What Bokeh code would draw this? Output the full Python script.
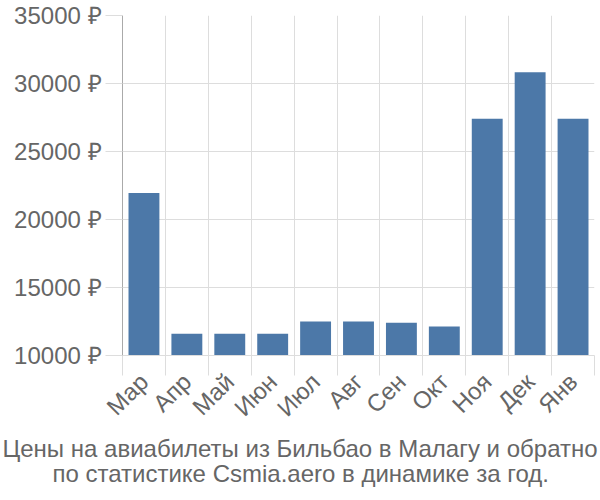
import math
from bokeh.plotting import figure
from bokeh.models import Range1d, FixedTicker, Title
from bokeh.embed import file_html
from bokeh.resources import INLINE

months = ["Мар", "Апр", "Май", "Июн", "Июл", "Авг", "Сен", "Окт", "Ноя", "Дек", "Янв"]
prices = [21950, 11600, 11600, 11600, 12500, 12500, 12400, 12130, 27400, 30830, 27400]
y_ticks = [10000, 15000, 20000, 25000, 30000, 35000]
title_lines = ["Цены на авиабилеты из Бильбао в Малагу и обратно",
               "по статистике Csmia.aero в динамике за год."]

FONT = "Liberation Sans"
GRAY = "#666666"

n = len(months)
centers = [i + 0.5 for i in range(n)]
bounds = list(range(n + 1))

p = figure(width=600, height=500, output_backend="svg", toolbar_location=None,
           x_range=Range1d(0, n), y_range=Range1d(10000, 35000),
           min_border_left=122, min_border_right=6, min_border_top=15, min_border_bottom=145)
p.outline_line_color = None
p.background_fill_color = "white"

p.vbar(x=centers, top=prices, bottom=10000, width=0.72, fill_color="#4c78a8", line_color=None)

# x axis
p.xaxis.ticker = FixedTicker(ticks=centers, minor_ticks=bounds)
p.xaxis.major_label_overrides = {c: m for c, m in zip(centers, months)}
p.xaxis.major_label_orientation = math.pi / 4
p.xaxis.major_tick_line_color = None
p.xaxis.minor_tick_line_color = "#dddddd"
p.xaxis.minor_tick_out = 20
p.xaxis.minor_tick_in = 0
p.xaxis.axis_line_color = "#dddddd"
p.xaxis.major_label_text_font = FONT
p.xaxis.major_label_text_font_size = "24px"
p.xaxis.major_label_text_color = GRAY
p.xaxis.major_label_standoff = 2
p.xgrid.ticker = FixedTicker(ticks=bounds)
p.xgrid.grid_line_color = "#dddddd"

# y axis
p.yaxis.ticker = FixedTicker(ticks=y_ticks)
p.yaxis.major_label_overrides = {t: f"{t} ₽" for t in y_ticks}
p.yaxis.axis_line_color = "#aaaaaa"
p.yaxis.major_tick_line_color = "#dddddd"
p.yaxis.major_tick_out = 17
p.yaxis.major_tick_in = 0
p.yaxis.minor_tick_line_color = None
p.yaxis.major_label_text_font = FONT
p.yaxis.major_label_text_font_size = "24px"
p.yaxis.major_label_text_color = GRAY
p.yaxis.major_label_standoff = 4
p.ygrid.grid_line_color = "#dddddd"

offsets = [-120, -70]
standoffs = [-3, -6]
for line, off, so in zip(title_lines, offsets, standoffs):
    p.add_layout(Title(text=line, align="left", offset=off, text_font=FONT,
                       text_font_size="24px", text_color=GRAY, text_font_style="normal",
                       standoff=so), "below")

open("out.html", "w").write(file_html(p, INLINE))
